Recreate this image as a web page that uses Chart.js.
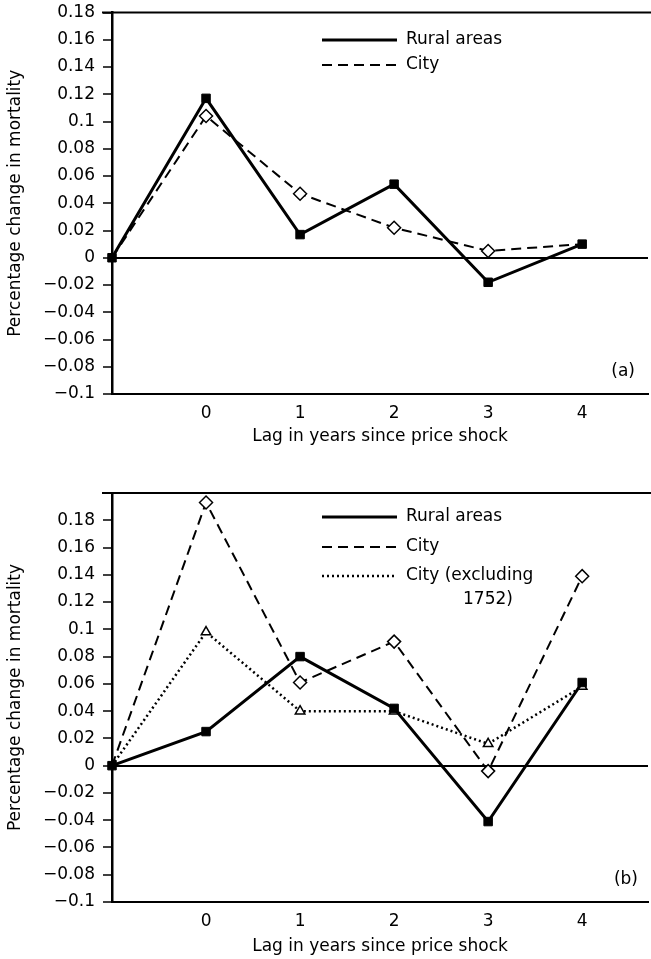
<!DOCTYPE html>
<html>
<head>
<meta charset="utf-8">
<script src="https://cdn.jsdelivr.net/npm/chart.js@4.4.1/dist/chart.umd.min.js"></script>
<style>
  body { margin: 0; background: #fff; }
  .wrap { position: relative; width: 651px; }
</style>
</head>
<body>
<div class="wrap" style="height:480px"><canvas id="chartA"></canvas></div>
<div class="wrap" style="height:479px"><canvas id="chartB"></canvas></div>
<script>
// lag in years (-1 is the origin point, no label)
const lags = [-1, 0, 1, 2, 3, 4];
const xTicks = [0, 1, 2, 3, 4];

// panel (a)
const ruralA = [0, 0.117, 0.017, 0.054, -0.018, 0.010];
const cityA = [0, 0.104, 0.047, 0.022, 0.005, 0.010];
const yTicksA = [-0.1, -0.08, -0.06, -0.04, -0.02, 0, 0.02, 0.04, 0.06, 0.08, 0.1, 0.12, 0.14, 0.16, 0.18];

// panel (b)
const ruralB = [0, 0.025, 0.080, 0.042, -0.041, 0.061];
const cityB = [0, 0.193, 0.061, 0.091, -0.004, 0.139];
const cityExclB = [0, 0.098, 0.040, 0.040, 0.016, 0.058];
const yTicksB = [-0.1, -0.08, -0.06, -0.04, -0.02, 0, 0.02, 0.04, 0.06, 0.08, 0.1, 0.12, 0.14, 0.16, 0.18];

const FONT = "'DejaVu Sans', sans-serif";
Chart.defaults.font.family = FONT;
Chart.defaults.font.size = 17;
Chart.defaults.color = '#000';

const fmtTick = (v) => String(Math.round(v * 100) / 100).replace('-', '\u2212');
const pts = (arr) => arr.map((v, i) => ({ x: lags[i], y: v }));

// legend lines + panel tag + top frame line
const sideLegend = {
  id: 'sideLegend',
  afterDatasetsDraw(chart, args, opts) {
    const { ctx, chartArea } = chart;
    ctx.save();
    // top frame
    ctx.strokeStyle = '#000';
    ctx.lineWidth = 2;
    ctx.beginPath();
    ctx.moveTo(chartArea.left - 10, chartArea.top);
    ctx.lineTo(chart.width, chartArea.top);
    ctx.stroke();

    ctx.font = '17px ' + FONT;
    ctx.fillStyle = '#000';
    ctx.textBaseline = 'middle';
    chart.data.datasets.forEach((ds, i) => {
      const y = chartArea.top + opts.rows[i];
      ctx.beginPath();
      ctx.setLineDash(ds.borderDash || []);
      ctx.lineWidth = ds.borderWidth;
      ctx.moveTo(chartArea.left + 210, y);
      ctx.lineTo(chartArea.left + 285, y);
      ctx.stroke();
      ctx.setLineDash([]);
      const lines = ds.label.split('\n');
      ctx.fillText(lines[0], chartArea.left + 294, y);
      if (lines[1]) ctx.fillText(lines[1], chartArea.left + 351, y + opts.lineGap);
    });
    ctx.textAlign = 'right';
    ctx.fillText(opts.tag, chartArea.right - opts.tagRight, chartArea.bottom - 22);
    ctx.restore();
  }
};

function makeChart(id, datasets, yMax, yTicks, opts) {
  return new Chart(document.getElementById(id), {
    type: 'line',
    data: { datasets: datasets },
    options: {
      responsive: true,
      maintainAspectRatio: false,
      animation: false,
      layout: { autoPadding: false, padding: { top: opts.top, right: 3, left: 0, bottom: 0 } },
      plugins: {
        legend: { display: false },
        tooltip: { enabled: false },
        sideLegend: opts.legend
      },
      scales: {
        x: {
          type: 'linear',
          min: -1,
          max: 4.7,
          afterBuildTicks: (s) => { s.ticks = xTicks.map(v => ({ value: v })); },
          afterFit: (s) => { s.height = opts.xHeight; s.paddingLeft = 0; s.paddingRight = 0; },
          grid: { display: false, drawTicks: false },
          border: { display: true, color: '#000', width: 2 },
          ticks: { padding: 9, maxRotation: 0, font: { size: 17 } },
          title: {
            display: true,
            text: 'Lag in years since price shock',
            font: { size: 17 },
            padding: { top: 0, bottom: opts.titleBottom }
          }
        },
        y: {
          min: -0.1,
          max: yMax,
          afterBuildTicks: (s) => { s.ticks = yTicks.map(v => ({ value: v })); },
          afterFit: (s) => { s.width = 112; s.paddingTop = 0; s.paddingBottom = 0; },
          grid: {
            drawOnChartArea: true,
            color: (c) => (c.tick && c.tick.value === 0 ? '#000' : 'rgba(0,0,0,0)'),
            lineWidth: 2,
            tickColor: '#000',
            tickWidth: 1.5,
            tickLength: 9
          },
          border: { display: true, color: '#000', width: 2.5 },
          ticks: { padding: 8, callback: (v) => fmtTick(v), font: { size: 17 } },
          title: {
            display: true,
            text: 'Percentage change in mortality',
            font: { size: 17 },
            padding: { top: 5, bottom: 0 }
          }
        }
      }
    },
    plugins: [sideLegend]
  });
}

const rural = (data) => ({
  label: 'Rural areas', data: pts(data), borderColor: '#000', borderWidth: 3,
  pointStyle: 'rect', pointRadius: 6, pointBackgroundColor: '#000', pointBorderColor: '#000',
  pointBorderWidth: 1, tension: 0, clip: false
});
// city marker hidden where it sits under the rural square
const city = (data, radius) => ({
  label: 'City', data: pts(data), borderColor: '#000', borderWidth: 2, borderDash: [10, 6],
  pointStyle: 'rectRot', pointRadius: radius, pointBackgroundColor: '#fff', pointBorderColor: '#000',
  pointBorderWidth: 1.5, tension: 0, clip: false
});

makeChart('chartA', [rural(ruralA), city(cityA, [0, 6.5, 6.5, 6.5, 6.5, 0])], 0.18, yTicksA, {
  top: 12.5, xHeight: 86, titleBottom: 33,
  legend: { rows: [27.5, 52.5], lineGap: 24, tag: '(a)', tagRight: 13 }
});

makeChart('chartB', [
  rural(ruralB),
  city(cityB, [0, 6.5, 6.5, 6.5, 6.5, 6.5]),
  {
    label: 'City (excluding\n1752)', data: pts(cityExclB), borderColor: '#000', borderWidth: 2.5,
    borderDash: [2, 3], pointStyle: 'triangle', pointRadius: [0, 5.5, 5.5, 5.5, 5.5, 5.5],
    pointBackgroundColor: '#fff', pointBorderColor: '#000', pointBorderWidth: 1.5, tension: 0, clip: false
  }
], 0.2, yTicksB, {
  top: 13, xHeight: 57, titleBottom: 2,
  legend: { rows: [24, 54, 83], lineGap: 24, tag: '(b)', tagRight: 10 }
});
</script>
</body>
</html>
